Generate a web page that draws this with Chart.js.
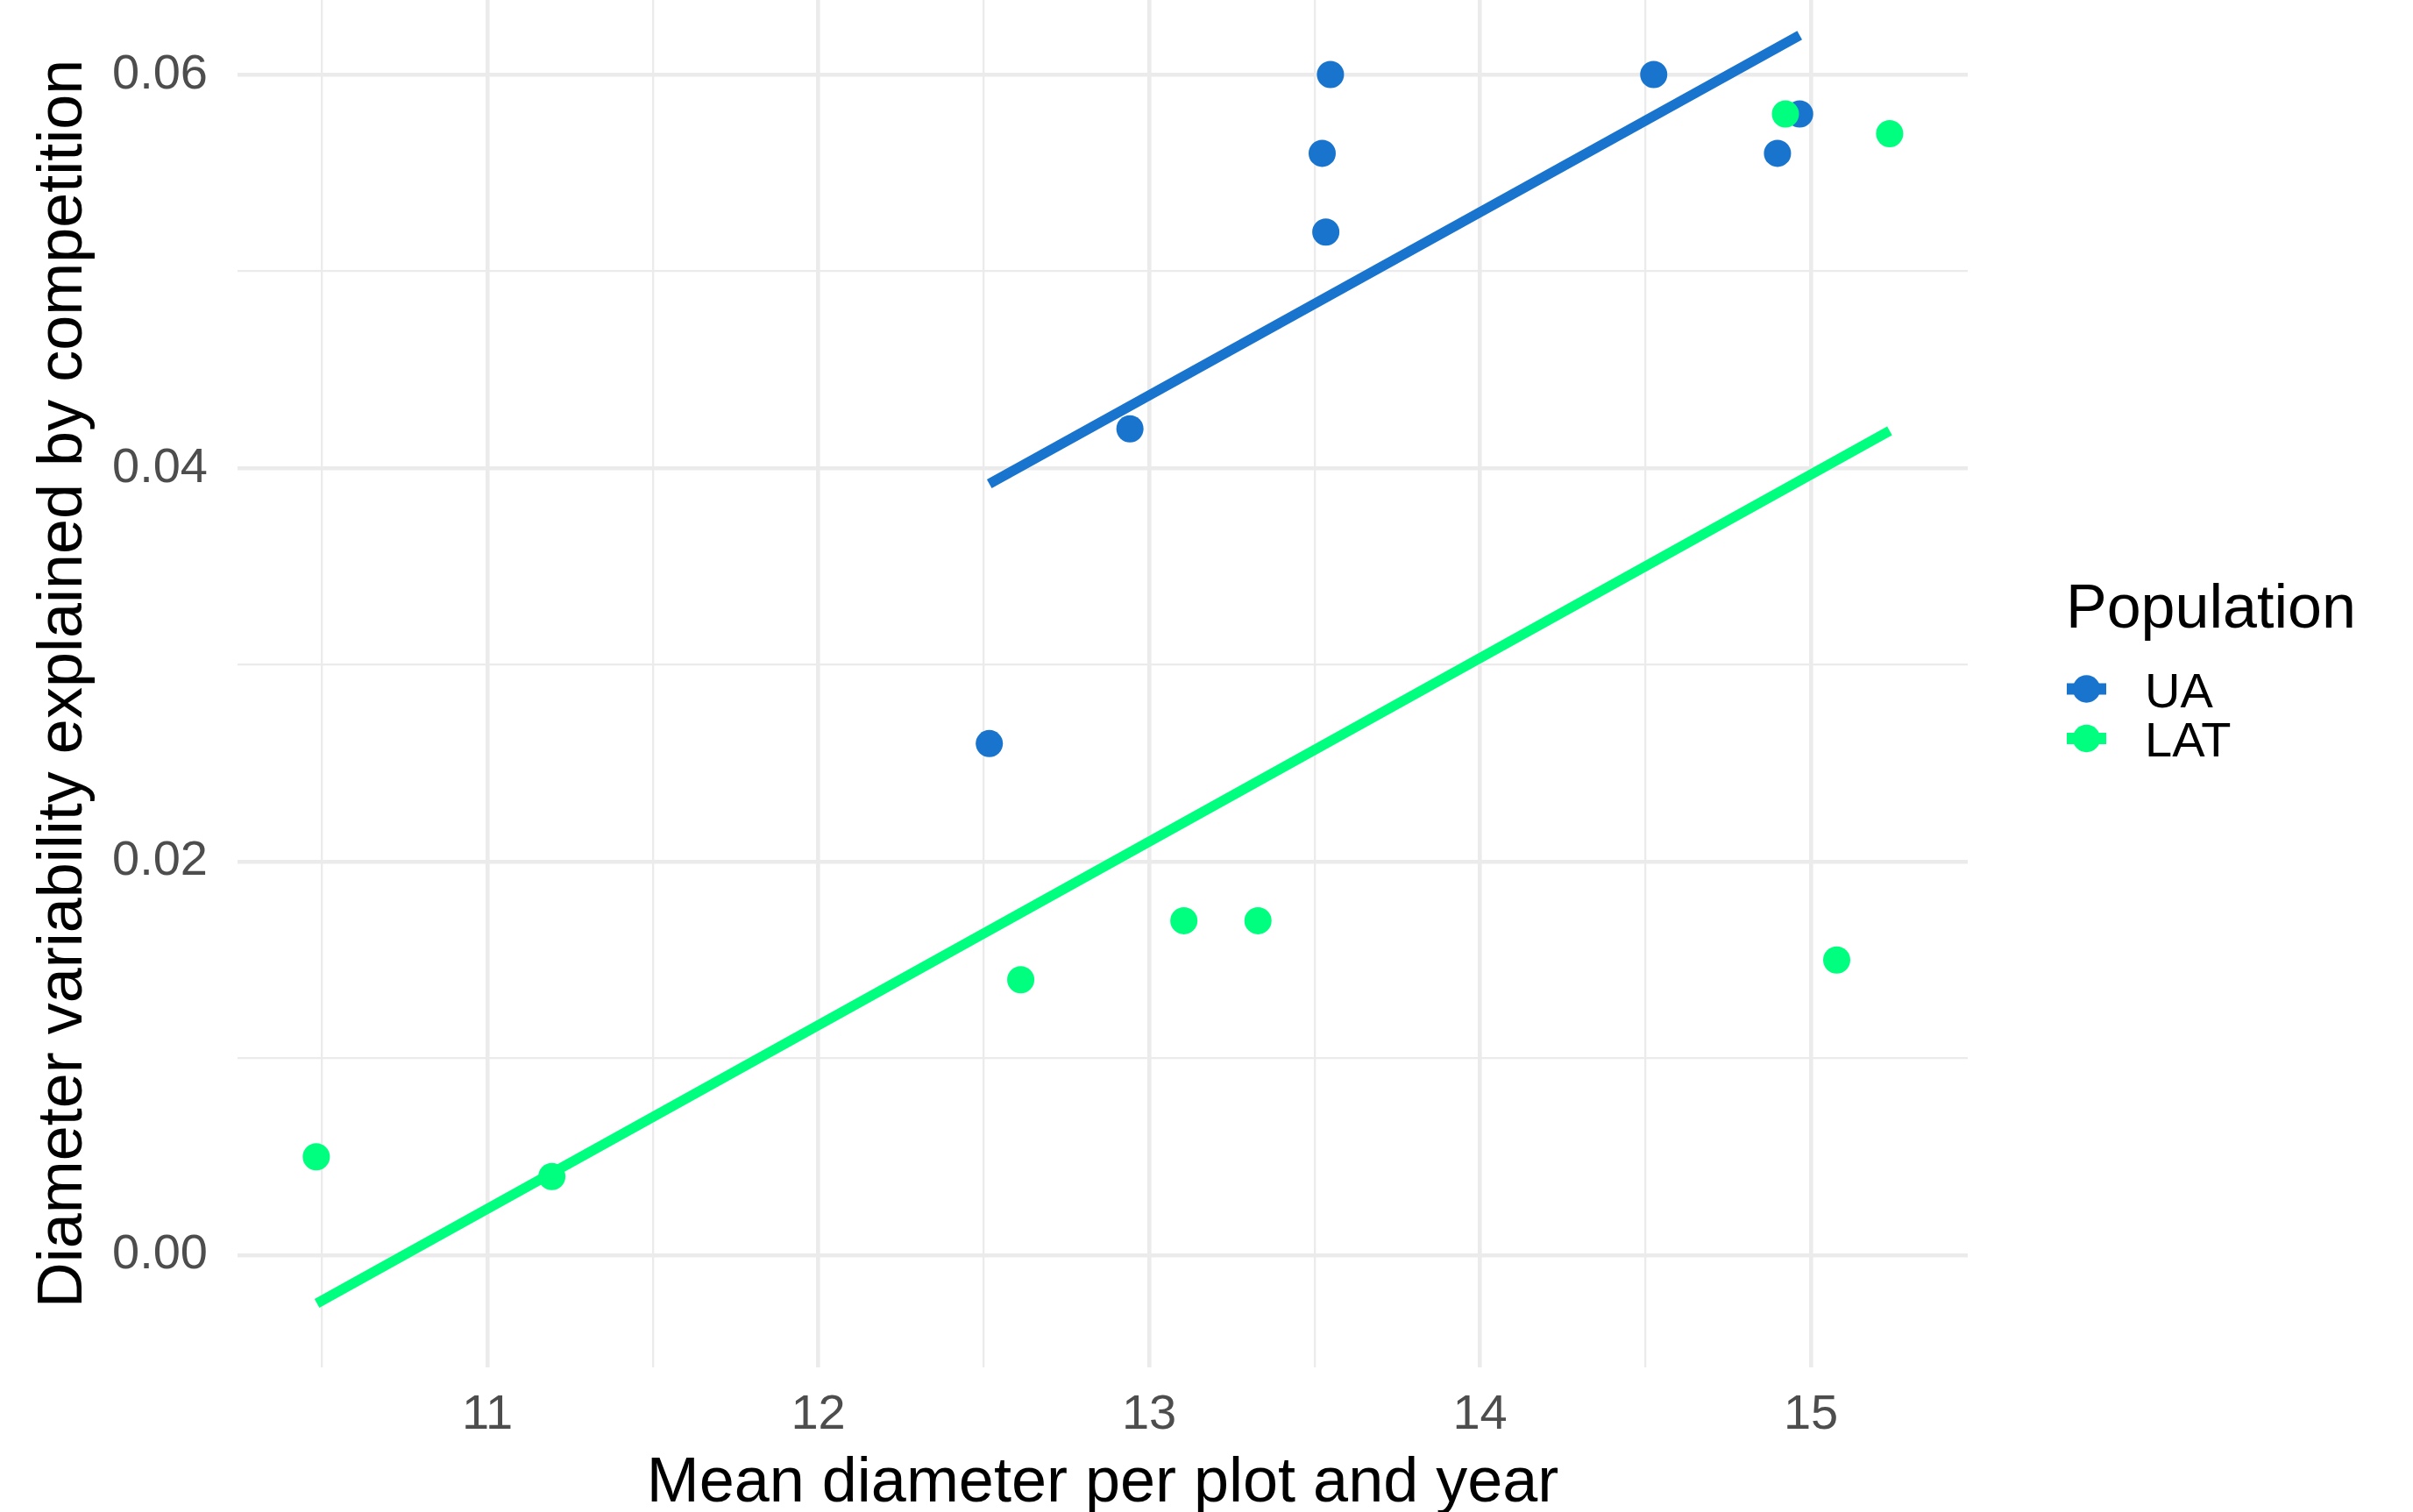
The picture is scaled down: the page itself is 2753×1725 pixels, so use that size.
<!DOCTYPE html>
<html lang="en">
<head>
    <meta charset="UTF-8">
    <title>Diameter variability explained by competition</title>
    <script src="https://cdn.jsdelivr.net/npm/chart.js"></script>
    <style>
        html, body { margin: 0; padding: 0; background: #ffffff; }
        #wrap { width: 2753px; height: 1725px; position: relative; }
    </style>
</head>
<body>
    <div id="wrap">
        <canvas id="competitionChart"></canvas>
    </div>

    <script>
        // Populations
        const populations = ['UA', 'LAT'];
        const popColors = ['#1874CD', '#00FF7F'];

        // Points (mean diameter, variability explained)
        const uaX = [12.517, 12.942, 13.523, 13.534, 13.548, 14.525, 14.899, 14.966];
        const uaY = [0.026, 0.042, 0.056, 0.052, 0.060, 0.060, 0.056, 0.058];
        const latX = [10.483, 11.195, 12.612, 13.105, 13.329, 14.923, 15.078, 15.238];
        const latY = [0.005, 0.004, 0.014, 0.017, 0.017, 0.058, 0.015, 0.057];

        // Fitted lines, end points
        const uaFitX = [12.517, 14.966];
        const uaFitY = [0.0392, 0.0620];
        const latFitX = [10.485, 15.238];
        const latFitY = [-0.00245, 0.0419];

        // Axes
        const xGrid = [10.5, 11, 11.5, 12, 12.5, 13, 13.5, 14, 14.5, 15];
        const xTickValues = [11, 12, 13, 14, 15];
        const xTickLabels = ['11', '12', '13', '14', '15'];
        const yGrid = [0, 0.01, 0.02, 0.03, 0.04, 0.05, 0.06];
        const yTickValues = [0, 0.02, 0.04, 0.06];
        const yTickLabels = ['0.00', '0.02', '0.04', '0.06'];

        const FONT = "'Liberation Sans', Arial, sans-serif";

        function toPoints(xs, ys) {
            return xs.map((x, i) => ({ x: x, y: ys[i] }));
        }

        // legend in the ggplot style: title, then point + line keys
        const ggLegend = {
            id: 'ggLegend',
            afterDraw(chart) {
                const ctx = chart.ctx;
                ctx.save();
                ctx.fillStyle = '#000000';
                ctx.textAlign = 'left';
                ctx.textBaseline = 'alphabetic';
                ctx.font = '70px ' + FONT;
                ctx.fillText('Population', 2357, 716);

                ctx.font = '56px ' + FONT;
                populations.forEach((name, i) => {
                    const cy = 786 + i * 56.5;
                    ctx.strokeStyle = popColors[i];
                    ctx.lineWidth = 13;
                    ctx.lineCap = 'butt';
                    ctx.beginPath();
                    ctx.moveTo(2358, cy);
                    ctx.lineTo(2403, cy);
                    ctx.stroke();
                    ctx.fillStyle = popColors[i];
                    ctx.beginPath();
                    ctx.arc(2380.5, cy, 15.7, 0, Math.PI * 2);
                    ctx.fill();
                    ctx.fillStyle = '#000000';
                    ctx.fillText(name, 2447, cy + 20.5);
                });
                ctx.restore();
            }
        };

        // no extra room for half tick labels at the panel edges
        function noEdgePadding(scale) {
            scale.paddingTop = 0;
            scale.paddingBottom = 0;
            scale.paddingLeft = 0;
            scale.paddingRight = 0;
        }

        const ctx = document.getElementById('competitionChart').getContext('2d');
        const chart = new Chart(ctx, {
            type: 'scatter',
            data: {
                datasets: [
                    {
                        label: 'UA fit',
                        data: toPoints(uaFitX, uaFitY),
                        showLine: true,
                        borderColor: popColors[0],
                        borderWidth: 11.5,
                        borderCapStyle: 'butt',
                        pointRadius: 0,
                        order: 4
                    },
                    {
                        label: 'LAT fit',
                        data: toPoints(latFitX, latFitY),
                        showLine: true,
                        borderColor: popColors[1],
                        borderWidth: 11.5,
                        borderCapStyle: 'butt',
                        pointRadius: 0,
                        order: 3
                    },
                    {
                        label: populations[0],
                        data: toPoints(uaX, uaY),
                        backgroundColor: popColors[0],
                        borderWidth: 0,
                        pointRadius: 15.5,
                        order: 2
                    },
                    {
                        label: populations[1],
                        data: toPoints(latX, latY),
                        backgroundColor: popColors[1],
                        borderWidth: 0,
                        pointRadius: 15.5,
                        order: 1
                    }
                ]
            },
            options: {
                responsive: true,
                maintainAspectRatio: false,
                devicePixelRatio: 1,
                animation: false,
                layout: {
                    autoPadding: false,
                    padding: { left: 0, right: 508, top: 0, bottom: 0 }
                },
                plugins: {
                    legend: { display: false },
                    tooltip: { enabled: false }
                },
                scales: {
                    x: {
                        type: 'linear',
                        min: 10.245,
                        max: 15.474,
                        afterBuildTicks: (scale) => {
                            scale.ticks = xGrid.map(v => ({ value: v }));
                        },
                        afterFit: (scale) => {
                            scale.height = 165;
                            noEdgePadding(scale);
                        },
                        border: { display: false },
                        grid: {
                            color: '#EBEBEB',
                            lineWidth: (c) => Number.isInteger(c.tick.value) ? 4.6 : 2.3,
                            drawTicks: false
                        },
                        ticks: {
                            autoSkip: false,
                            maxRotation: 0,
                            padding: 21,
                            color: '#4D4D4D',
                            font: { family: FONT, size: 56 },
                            callback: (value) => {
                                const i = xTickValues.indexOf(value);
                                return i >= 0 ? xTickLabels[i] : '';
                            }
                        },
                        title: {
                            display: true,
                            text: 'Mean diameter per plot and year',
                            color: '#000000',
                            font: { family: FONT, size: 72, lineHeight: 0.89 },
                            padding: { top: 0, bottom: 0 }
                        }
                    },
                    y: {
                        type: 'linear',
                        min: -0.0057,
                        max: 0.06379,
                        afterBuildTicks: (scale) => {
                            scale.ticks = yGrid.map(v => ({ value: v }));
                        },
                        afterFit: (scale) => {
                            scale.width = 271;
                            noEdgePadding(scale);
                        },
                        border: { display: false },
                        grid: {
                            color: '#EBEBEB',
                            lineWidth: (c) => Math.round(c.tick.value * 100) % 2 === 0 ? 4.6 : 2.3,
                            drawTicks: false
                        },
                        ticks: {
                            autoSkip: false,
                            padding: 34,
                            color: '#4D4D4D',
                            font: { family: FONT, size: 56 },
                            callback: (value) => {
                                const i = yTickValues.indexOf(value);
                                return i >= 0 ? yTickLabels[i] : '';
                            }
                        },
                        title: {
                            display: true,
                            text: 'Diameter variability explained by competition',
                            color: '#000000',
                            font: { family: FONT, size: 72, lineHeight: 1.2 },
                            padding: { top: 30, bottom: 0 }
                        }
                    }
                }
            },
            plugins: [ggLegend]
        });
    </script>
</body>
</html>
